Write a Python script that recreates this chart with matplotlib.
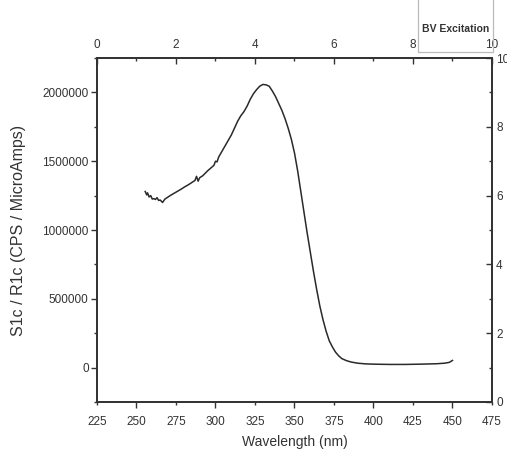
import matplotlib
matplotlib.use("Agg")
import matplotlib.pyplot as plt
from matplotlib.patches import Rectangle
from matplotlib.ticker import MultipleLocator

wavelength = [255.5, 256.5, 257, 258, 259, 260, 261, 262, 263, 264, 265, 266.5, 268, 270, 272,
              275, 278, 280, 283, 285, 287, 288, 289, 290, 292, 295, 297, 299, 300, 301, 302,
              304, 306, 308, 310, 312, 314, 316, 318, 320, 322, 324, 326, 328, 330, 332, 334,
              336, 338, 340, 342, 344, 346, 348, 350, 352, 354, 356, 358, 360, 362, 364, 366,
              368, 370, 372, 374, 376, 378, 380, 383, 386, 390, 395, 400, 410, 420, 430, 440,
              445, 448, 450]
intensity = [1280000, 1255000, 1270000, 1240000, 1250000, 1225000, 1228000, 1222000, 1235000,
             1215000, 1218000, 1200000, 1225000, 1240000, 1255000, 1275000, 1295000, 1310000,
             1330000, 1345000, 1360000, 1390000, 1355000, 1380000, 1395000, 1430000, 1450000,
             1470000, 1500000, 1495000, 1530000, 1570000, 1610000, 1650000, 1690000, 1740000,
             1790000, 1830000, 1860000, 1900000, 1950000, 1990000, 2020000, 2045000, 2058000,
             2055000, 2045000, 2010000, 1970000, 1920000, 1870000, 1810000, 1740000, 1660000,
             1560000, 1430000, 1280000, 1130000, 980000, 840000, 700000, 570000, 450000,
             350000, 265000, 195000, 150000, 112000, 85000, 65000, 50000, 40000, 32000, 27000,
             25000, 23000, 23000, 25000, 28000, 32000, 38000, 52000]

x_ticks = [225, 250, 275, 300, 325, 350, 375, 400, 425, 450, 475]
y_ticks = [0, 500000, 1000000, 1500000, 2000000]
top_ticks = [0, 2, 4, 6, 8, 10]
right_ticks = [0, 2, 4, 6, 8, 10]
legend_label = "BV Excitation"

plt.rcParams['font.family'] = ['Liberation Sans', 'DejaVu Sans']
fig = plt.figure(figsize=(5.07, 4.59), dpi=100)
ax = fig.add_axes([0.1913, 0.1242, 0.7791, 0.7494])
lc = '#333333'
ax.plot(wavelength, intensity, color='#2a2a2a', lw=1.1)
ax.set_xlim(225, 475)
ax.set_ylim(-250000, 2250000)
ax.set_xticks(x_ticks)
ax.set_xticklabels([str(t) for t in x_ticks])
ax.set_yticks(y_ticks)
ax.set_yticklabels([str(t) for t in y_ticks])
ax.yaxis.set_minor_locator(MultipleLocator(250000))
ax.tick_params(axis='both', which='major', direction='out', length=4, width=1, colors=lc,
               labelsize=8.5, labelcolor='#333333')
ax.tick_params(axis='x', which='major', pad=6)
ax.tick_params(axis='y', which='major', pad=2)
ax.tick_params(axis='y', which='minor', direction='out', length=2.5, width=1, colors=lc)
# bottom: longer ticks every 50, shorter in between
for i, t in enumerate(ax.xaxis.get_major_ticks()):
    if i % 2 == 1:
        t.tick1line.set_markersize(4.5)
    else:
        t.tick1line.set_markersize(2.5)
ax.set_xlabel("Wavelength (nm)", fontsize=10, color='#333333', labelpad=5)
ax.set_ylabel("S1c / R1c (CPS / MicroAmps)", fontsize=11.5, color='#333333', labelpad=12)
for s in ax.spines.values():
    s.set_color(lc)
    s.set_linewidth(1.1)

# top axis
axt = ax.twiny()
axt.set_xlim(0, 10)
axt.set_xticks(top_ticks)
axt.xaxis.set_minor_locator(MultipleLocator(1))
axt.tick_params(axis='x', which='major', direction='in', length=4, width=1, colors=lc,
                labelsize=8.5, labelcolor='#333333', pad=5)
axt.tick_params(axis='x', which='minor', direction='in', length=2.5, width=1, colors=lc)
# right axis
axr = ax.twinx()
axr.set_ylim(0, 10)
axr.set_yticks(right_ticks)
axr.yaxis.set_minor_locator(MultipleLocator(1))
axr.tick_params(axis='y', which='major', direction='in', length=4, width=1, colors=lc,
                labelsize=8.5, labelcolor='#333333', pad=3)
axr.tick_params(axis='y', which='minor', direction='in', length=2.5, width=1, colors=lc)
for a in (axt, axr):
    for s in a.spines.values():
        s.set_color(lc)
        s.set_linewidth(1.1)

# legend box at top right
fig.patches.append(Rectangle((418 / 507, 1 - 52 / 459), (493 - 418) / 507, 60 / 459,
                             transform=fig.transFigure, fill=False, edgecolor='#bbbbbb',
                             lw=0.9, clip_on=False))
fig.text(456 / 507, 1 - 29 / 459, legend_label, ha='center', va='center', fontsize=7.5,
         fontweight='bold', color='#333333')

fig.savefig("out.png", dpi=100)
